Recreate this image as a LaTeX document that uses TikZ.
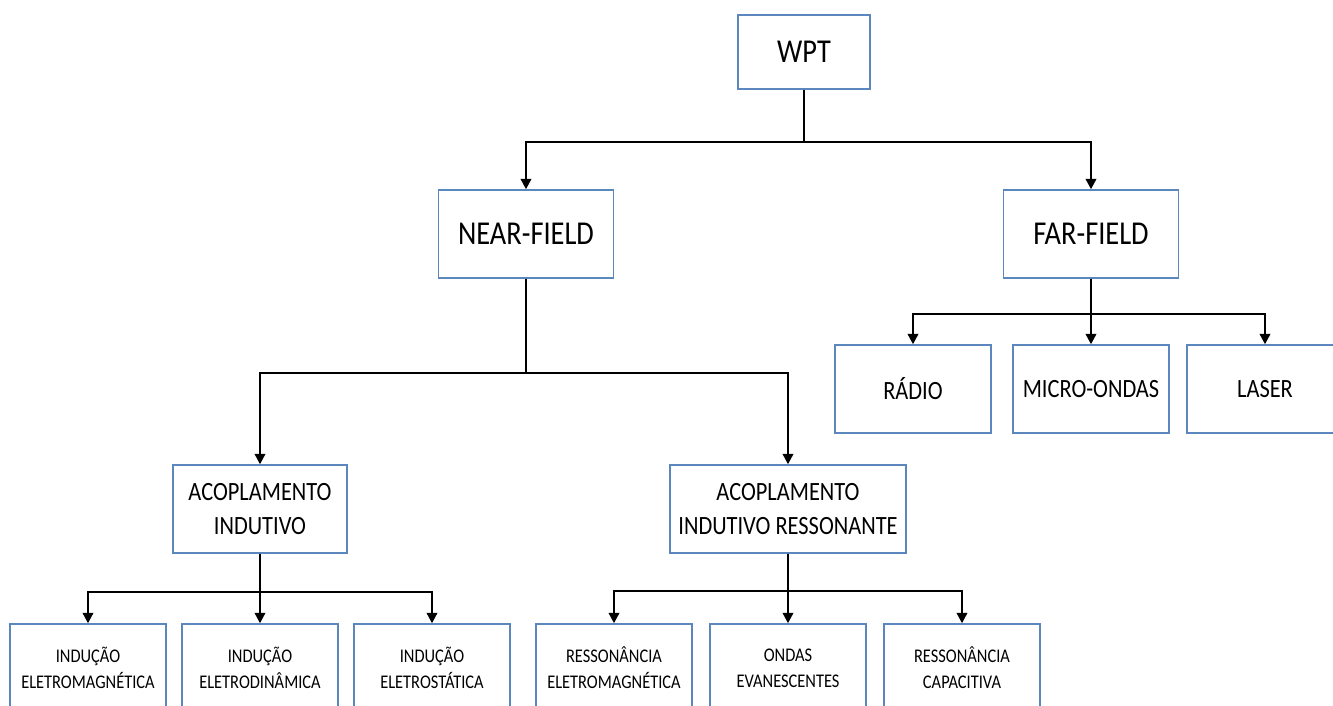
\documentclass[tikz,border=0pt]{standalone}
\usepackage{fontspec}
\setmainfont[FakeStretch=0.85]{Carlito}
\usetikzlibrary{arrows.meta}
\definecolor{boxblue}{RGB}{91,135,190}

\begin{document}
\begin{tikzpicture}

	\tikzset{
	box/.style={draw=boxblue, line width=0.8pt, fill=white, align=center, inner sep=0pt},
	bigbox/.style={box, minimum width=3.5cm, minimum height=1.76cm, font=\fontsize{19}{23}\selectfont},
	midbox/.style={box, minimum width=3.12cm, minimum height=1.76cm, font=\fontsize{15}{19}\selectfont},
	leafbox/.style={box, minimum width=3.12cm, minimum height=1.76cm, font=\fontsize{11}{14.7}\selectfont},
	link/.style={line width=1.3pt, -{Triangle[length=6pt,width=6pt]}}
	}

	\useasboundingbox (0,0) rectangle (26.66,-14.12);

	% Nodes
	\node[bigbox, minimum width=2.64cm, minimum height=1.48cm] (wpt) at (16.08,-1.04) {WPT};
	\node[bigbox, below of=wpt, node distance=3.64cm, xshift=-5.56cm] (near) {NEAR-FIELD};
	\node[bigbox, below of=wpt, node distance=3.64cm, xshift=5.74cm] (far) {FAR-FIELD};

	\node[midbox, below of=far, node distance=3.1cm, xshift=-3.56cm] (radio) {RÁDIO};
	\node[midbox, below of=far, node distance=3.1cm] (micro) {MICRO-ONDAS};
	\node[midbox, below of=far, node distance=3.1cm, xshift=3.48cm] (laser) {LASER};

	\node[midbox, minimum width=3.48cm, below of=near, node distance=5.5cm, xshift=-5.32cm] (ai) {ACOPLAMENTO\\INDUTIVO};
	\node[midbox, minimum width=4.72cm, below of=near, node distance=5.5cm, xshift=5.24cm] (air) {ACOPLAMENTO\\INDUTIVO RESSONANTE};

	\node[leafbox, below of=ai, node distance=3.18cm, xshift=-3.44cm] (ieman) {INDUÇÃO\\ELETROMAGNÉTICA};
	\node[leafbox, below of=ai, node distance=3.18cm] (idin) {INDUÇÃO\\ELETRODINÂMICA};
	\node[leafbox, below of=ai, node distance=3.18cm, xshift=3.44cm] (iest) {INDUÇÃO\\ELETROSTÁTICA};

	\node[leafbox, below of=air, node distance=3.18cm, xshift=-3.48cm] (rem) {RESSONÂNCIA\\ELETROMAGNÉTICA};
	\node[leafbox, below of=air, node distance=3.18cm] (ondas) {ONDAS\\EVANESCENTES};
	\node[leafbox, below of=air, node distance=3.18cm, xshift=3.48cm] (rcap) {RESSONÂNCIA\\CAPACITIVA};

	% Lines
	\draw[link] (wpt.south) -- ++(0,-1.04) -| (near.north);
	\draw[link] (wpt.south) -- ++(0,-1.04) -| (far.north);

	\draw[link] (near.south) -- ++(0,-1.88) -| (ai.north);
	\draw[link] (near.south) -- ++(0,-1.88) -| (air.north);

	\draw[link] (far.south) -- ++(0,-0.7) -| (radio.north);
	\draw[link] (far.south) -- ++(0,-0.7) -| (micro.north);
	\draw[link] (far.south) -- ++(0,-0.7) -| (laser.north);

	\draw[link] (ai.south) -- ++(0,-0.76) -| (ieman.north);
	\draw[link] (ai.south) -- ++(0,-0.76) -| (idin.north);
	\draw[link] (ai.south) -- ++(0,-0.76) -| (iest.north);

	\draw[link] (air.south) -- ++(0,-0.74) -| (rem.north);
	\draw[link] (air.south) -- ++(0,-0.74) -| (ondas.north);
	\draw[link] (air.south) -- ++(0,-0.74) -| (rcap.north);

\end{tikzpicture}
\end{document}
